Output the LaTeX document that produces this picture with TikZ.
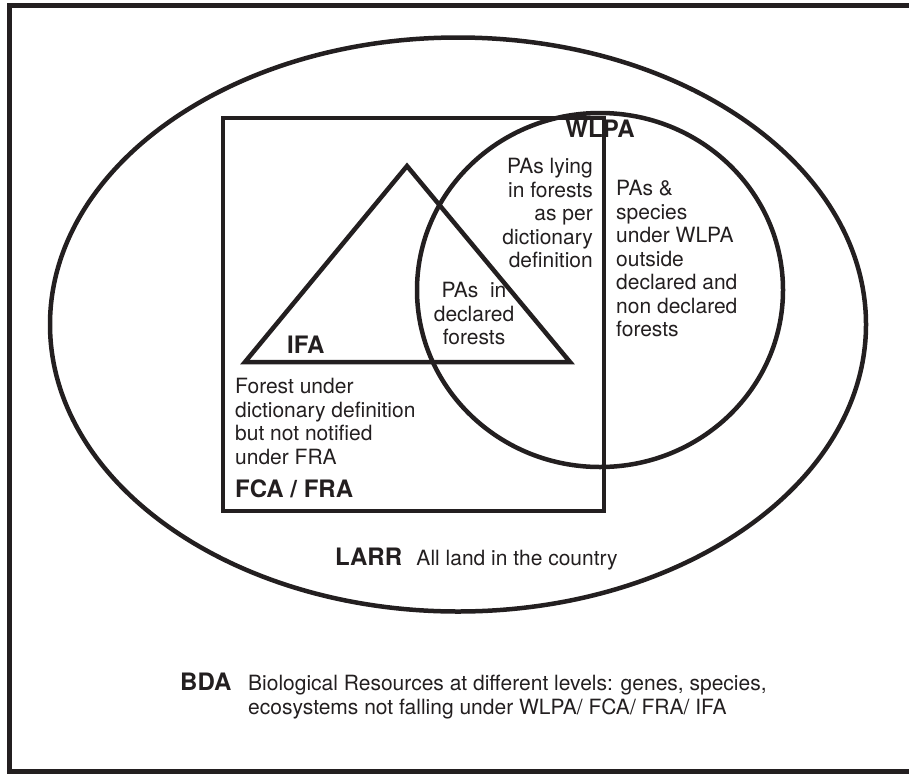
\documentclass[tikz,border=0pt]{standalone}
\usepackage{fontspec}
\setmainfont{TeX Gyre Heros}
\definecolor{ink}{RGB}{35,31,32}
\usetikzlibrary{positioning}
\tikzstyle{region}=[draw=ink, line width=4.5pt]
\tikzstyle{txt}=[inner sep=0pt, text=ink, font=\fontsize{21}{23.5}\selectfont]
\tikzstyle{act}=[inner sep=0pt, text=ink, font=\fontsize{24}{26}\selectfont\bfseries]

\begin{document}
\begin{tikzpicture}[x=1pt, y=-1pt, node distance=14pt]
  \useasboundingbox (0,0) rectangle (909,774);
  % BDA frame
  \draw[region, line width=5pt] (909,5) -- (9.5,5) -- (9.5,771.5) -- (909,771.5);
  % LARR, FCA/FRA, IFA, WLPA
  \draw[region] (458,324.5) ellipse [x radius=408, y radius=287];
  \draw[region] (223,118) rectangle (604,511);
  \draw[region] (407,166) -- (570,362) -- (245,362) -- cycle;
  \draw[region] (600,290) ellipse [x radius=183, y radius=177];

  \node[act, anchor=base] (wlpa) at (600,137) {WLPA};
  \node[txt, align=right, anchor=north east] (inforest) at (593,158)
    {PAs lying\\in forests\\as per\\dictionary\\definition};
  \node[txt, align=left, anchor=north west] (outside) at (616,180)
    {PAs \&\\species\\under WLPA\\outside\\declared and\\non declared\\forests};
  \node[txt, align=center, anchor=north] (declared) at (474,282)
    {PAs~ in\\declared\\forests};

  \node[act, anchor=base west] (ifa) at (287,353) {IFA};
  \node[txt, align=left, anchor=north west] (dict) at (235,378)
    {Forest under\\dictionary definition\\but not notified\\under FRA};
  \node[act, anchor=base west] (fca) at (235,497) {FCA / FRA};

  \node[act, anchor=base west] (larr) at (335,565) {LARR};
  \node[txt, base right=of larr] (land) {All land in the country};

  \node[act, anchor=base west] (bda) at (180,690) {BDA};
  \node[txt, align=left, anchor=north west] (bio) at (248,675)
    {Biological Resources at different levels: genes, species,\\ecosystems not falling under WLPA/ FCA/ FRA/ IFA};
\end{tikzpicture}
\end{document}
